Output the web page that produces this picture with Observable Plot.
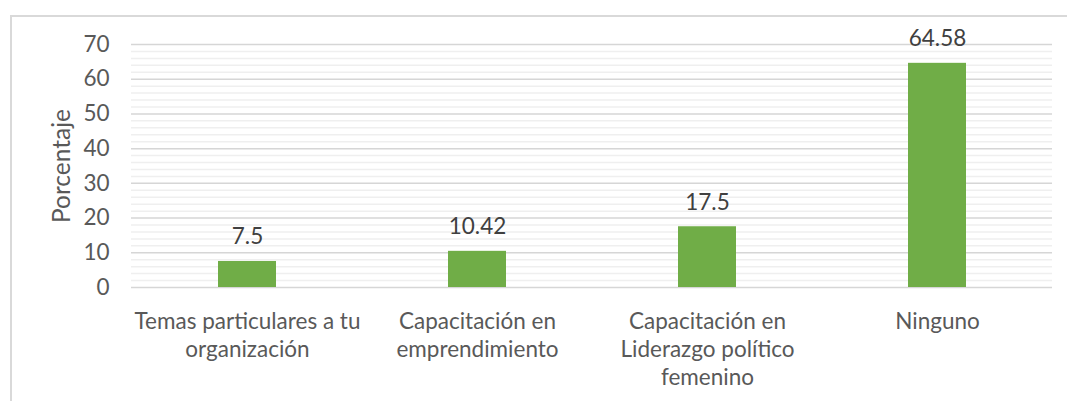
<!DOCTYPE html>
<html>
<head>
<meta charset="utf-8">
<script src="https://cdn.jsdelivr.net/npm/d3@7"></script>
<script src="https://cdn.jsdelivr.net/npm/@observablehq/plot@0.6"></script>
<style>
  html, body { margin: 0; padding: 0; background: #fff; }
  #wrap { position: relative; width: 1067px; height: 401px; overflow: hidden; }
  #frame { position: absolute; left: 10px; top: 15px; width: 1080px; height: 420px;
           border-left: 2px solid #d9d9d9; border-top: 2px solid #d9d9d9; box-sizing: border-box; }
  #chart { position: absolute; left: 0; top: 0; }
</style>
</head>
<body>
<div id="wrap"><div id="frame"></div><div id="chart"></div></div>
<script>
const categories = ["Temas particulares a tu organización", "Capacitación en emprendimiento", "Capacitación en Liderazgo político femenino", "Ninguno"];
const tickLabels = ["Temas particulares a tu\norganización", "Capacitación en\nemprendimiento", "Capacitación en\nLiderazgo político\nfemenino", "Ninguno"];
const values = [7.5, 10.42, 17.5, 64.58];
const valueLabels = ["7.5", "10.42", "17.5", "64.58"];
const yTicks = [0, 10, 20, 30, 40, 50, 60, 70];
const yMinorTicks = d3.range(0, 71, 2).filter(v => v % 10 !== 0);
const yLabel = "Porcentaje";

const data = categories.map((c, i) => ({cat: c, value: values[i], label: valueLabels[i]}));
const font = "Lato, 'Open Sans', sans-serif";

const chart = Plot.plot({
  width: 1067,
  height: 401,
  marginLeft: 131,
  marginRight: 15,
  marginTop: 44,
  marginBottom: 114,
  style: { fontFamily: font, background: "transparent", overflow: "visible" },
  x: { domain: categories, padding: 0, label: null },
  y: { domain: [0, 70], label: null },
  marks: [
    Plot.ruleY(yMinorTicks, { stroke: "#efefef", strokeWidth: 1.5 }),
    Plot.ruleY(yTicks, { stroke: "#d6d6d6", strokeWidth: 1.5 }),
    Plot.barY(data, { x: "cat", y: "value", fill: "#70ad47", insetLeft: 86, insetRight: 86 }),
    Plot.text(data, { x: "cat", y: "value", text: "label", lineAnchor: "bottom", dy: -17,
      fontSize: 22.5, fill: "#404040", fontFamily: font }),
    Plot.axisY(yTicks, { tickSize: 0, tickPadding: 22, fontSize: 22.5, fill: "#595959", label: null }),
    Plot.axisX(categories, { tickSize: 0, tickPadding: 22, fontSize: 22.5, fill: "#595959",
      lineHeight: 1.24, lineAnchor: "top", label: null,
      tickFormat: (d) => tickLabels[categories.indexOf(d)] }),
    Plot.text([yLabel], { frameAnchor: "left", textAnchor: "middle", dx: -69, rotate: -90, fontSize: 24.5,
      fill: "#595959", fontFamily: font, text: d => d })
  ]
});
document.getElementById("chart").appendChild(chart);
</script>
</body>
</html>
